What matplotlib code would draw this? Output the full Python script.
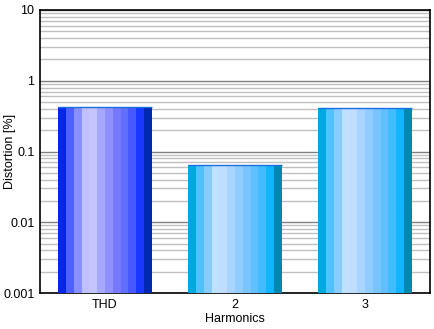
import matplotlib.pyplot as plt
from matplotlib.ticker import FixedLocator, FixedFormatter, LogLocator, NullFormatter

categories = ["THD", "2", "3"]
distortion = [0.42, 0.0635, 0.41]

# vertical stripe shades used to fake the cylinder look of each bar
THD_SHADES = ["#0028e8", "#5060ff", "#8890ff", "#c0c0ff", "#c4c4ff", "#a8a8ff",
              "#9090ff", "#7878ff", "#6070ff", "#4858ff", "#1838ff", "#0028b0"]
HARM_SHADES = ["#00a8e0", "#50c0ff", "#88ccff", "#c0e0ff", "#c0dcff", "#a8d4ff",
               "#90ccff", "#78c4ff", "#60c0ff", "#40bcff", "#10b4ff", "#0088b0"]

plt.rcParams["font.family"] = ["Liberation Sans", "DejaVu Sans"]
plt.rcParams["font.size"] = 9

fig = plt.figure(figsize=(4.34, 3.29), dpi=100)
ax = fig.add_axes([40 / 434, 36 / 329, 390 / 434, 283 / 329])
ax.set_yscale("log")
ax.set_ylim(0.001, 10)
ax.set_xlim(-0.5, len(categories) - 0.5)

bar_w = 0.72
for i, (cat, val) in enumerate(zip(categories, distortion)):
    shades = THD_SHADES if cat == "THD" else HARM_SHADES
    n = len(shades)
    sw = bar_w / n
    left = i - bar_w / 2
    for k, c in enumerate(shades):
        ax.bar(left + (k + 0.5) * sw, val - 0.001, width=sw, bottom=0.001,
               color=c, linewidth=0, zorder=3)
    ax.hlines(val, left, left + bar_w, color="#1a6fe0", lw=1, zorder=4)

ax.yaxis.set_major_locator(FixedLocator([0.001, 0.01, 0.1, 1, 10]))
ax.yaxis.set_major_formatter(FixedFormatter(["0.001", "0.01", "0.1", "1", "10"]))
ax.yaxis.set_minor_locator(LogLocator(base=10, subs=range(2, 10)))
ax.yaxis.set_minor_formatter(NullFormatter())
ax.grid(axis="y", which="major", color="#808080", lw=1, zorder=1)
ax.grid(axis="y", which="minor", color="#c0c0c0", lw=1, zorder=1)
ax.set_xticks(range(len(categories)))
ax.set_xticklabels(categories)
ax.tick_params(axis="both", which="both", length=0, pad=4, labelsize=9)

for s in ax.spines.values():
    s.set_color("black")
    s.set_linewidth(1.2)

ax.set_xlabel("Harmonics", fontsize=9, labelpad=2)
ax.set_ylabel("Distortion [%]", fontsize=9, va="center")
ax.yaxis.set_label_coords(-30 / 390, 0.5)

fig.savefig("out.png", dpi=100, facecolor="white")
